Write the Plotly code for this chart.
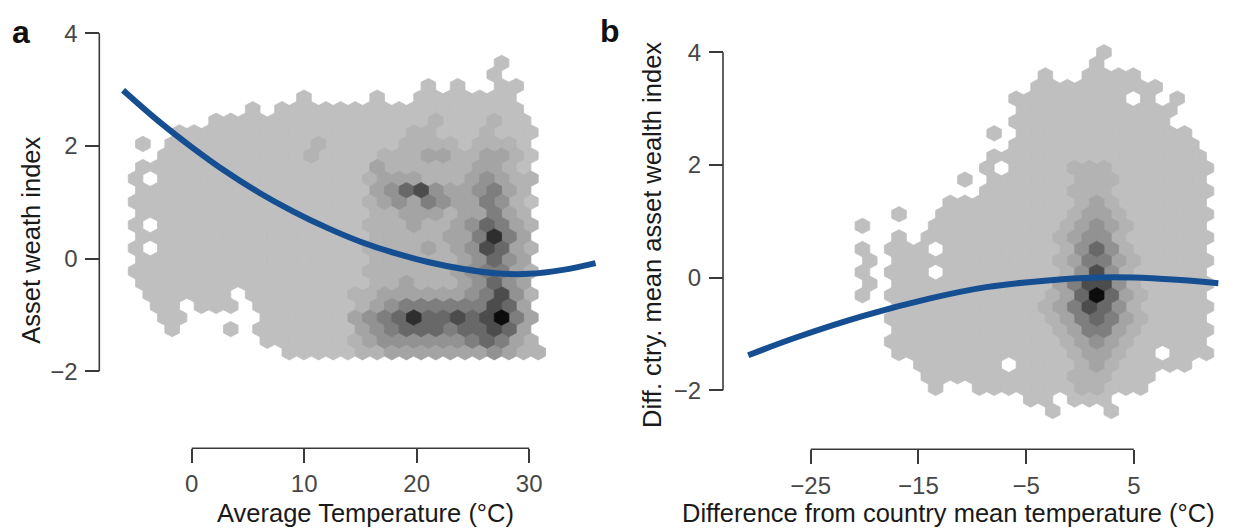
import plotly.graph_objects as go

# ---------------- data ----------------
# Hexbin counts are stored as density classes (1 = fewest households, 9 = most),
# one string per hex row, top row first; '.' marks an empty bin.

# Panel a: asset wealth index vs. average temperature
TEMP_HEX_ROWS = [
    ".........................1..",
    "........................1...",
    "....................1.1..11.",
    "...........1....1..1111111..",
    "........1.11111111111111111.",
    ".....1111111111111112111211.",
    "...1111111111111111221112111",
    "1." + "1111111111" + "2" + "1111" + "1222212221" + ".",
    ".." + "1111111111" + "2" + "111" + "1222" + "33" + "22" + "33" + "2" + "1",
    "11111111111111" + "1" + "1" + "3" + "222222" + "3" + "3" + "2" + "1" + ".",
    "1." + "1111111111111" + "1233322234322",
    "111111111111111" + "134674334532" + ".",
    "111111111111111" + "1234354335421",
    "111111111111111" + "122333233532" + ".",
    "1." + "1111111111111" + "1222322346532",
    "111111111111111" + "122222335853" + ".",
    "1." + "1111111111111" + "1222232347632",
    "111111111111111" + "122222234643" + ".",
    "111111111111111" + "1222222345532",
    "111111111111111" + "122322234643" + ".",
    ".111111.1111111" + "2233333345742",
    ".11.111.1111111" + "234555555763" + ".",
    "..11.....111111" + "3456866767953",
    "..1...1.1111111" + "345666566763" + ".",
    ".........111111" + "2344444456532",
    "..........11111" + "2233333334322",
]

# Panel b: difference from country-mean asset wealth vs. temperature anomaly
DIFF_HEX_ROWS = [
    ".................1.......",
    "................1........",
    ".............1..1111.....",
    "............111111111....",
    "...........11111111.1.1..",
    "...........11111111111...",
    "...........11111111111...",
    ".........1.111111111111..",
    "...........1111111111111.",
    ".........111111111111111.",
    ".........1.11112221111111",
    ".......1.111111222111111.",
    ".........1111112221111111",
    "......111111111232111111.",
    "...1..1111111112332111111",
    "1...." + "111111111" + "23432" + "11111" + ".",
    "...1." + "111111111" + "23442" + "111111",
    "1.111." + "11111111" + "24642" + "11111" + ".",
    ".1." + "11111111111" + "235532" + "11111",
    "1.111." + "11111111" + "24742" + "11111" + ".",
    ".1." + "11111111111" + "357742" + "11111",
    "1." + "11111111111" + "2369632" + "1111" + ".",
    "..." + "1111111111" + "2357642" + "11111",
    ".." + "11111111111" + "2356532" + "1111" + ".",
    "..." + "11111111111" + "235532" + "11111",
    ".." + "111111111111" + "23432" + "11111" + ".",
    "..." + "111111111111" + "2332" + "11" + "." + "111",
    "...." + "111111" + "." + "1111" + "232" + "11111" + "..",
    "....." + "1111111111" + "222" + "111" + "....",
    "....." + "1" + ".." + "1111111" + "22" + "111" + ".....",
    "............11.111.......",
    ".............1...1.......",
]

# Fitted response curves
TEMP_CURVE_X = [-6.1, -3.0, 0.0, 3.0, 6.0, 9.0, 12.0, 15.0, 18.0, 21.0, 24.0, 27.0, 30.0, 33.0, 35.9]
TEMP_CURVE_Y = [2.99, 2.45, 1.98, 1.55, 1.17, 0.84, 0.55, 0.30, 0.10, -0.06, -0.18, -0.26, -0.27, -0.20, -0.08]

DIFF_CURVE_X = [-30.8, -26.3, -20.1, -13.9, -8.7, -3.0, 1.5, 5.0, 9.0, 12.85]
DIFF_CURVE_Y = [-1.38, -1.06, -0.68, -0.37, -0.17, -0.05, 0.0, 0.0, -0.04, -0.10]

TEMP_TICKS = [0, 10, 20, 30]
DIFF_TICKS = [-25, -15, -5, 5]
WEALTH_TICKS = [-2, 0, 2, 4]

# ---------------- hexbin geometry (data units) ----------------
TEMP_BINS = dict(x0=-4.987, dx=1.3013, y0=-1.661, dy=0.20534)
DIFF_BINS = dict(x0=-20.878, dx=1.3593, y0=-2.370, dy=0.20551)

GRAYS = {1: "#bfbfbf", 2: "#b3b3b3", 3: "#a4a4a4", 4: "#929292", 5: "#7e7e7e",
         6: "#686868", 7: "#4c4c4c", 8: "#2e2e2e", 9: "#0c0c0c"}
CURVE_COLOR = "#164f91"
AXIS_COLOR = "#3a3a3a"
FONT = "Liberation Sans, Arial, Helvetica, sans-serif"


def hex_traces(rows, b, xa, ya):
    n = len(rows)
    hw = b["dx"] / 2.0
    rv = b["dy"] * 2.0 / 3.0
    polys = {}
    for i, row in enumerate(rows):
        k = n - 1 - i
        cy = b["y0"] + k * b["dy"]
        shift = 0.5 if k % 2 == 0 else 0.0
        for c, ch in enumerate(row):
            if ch == ".":
                continue
            cx = b["x0"] + (c + shift) * b["dx"]
            xs, ys = polys.setdefault(int(ch), ([], []))
            xs += [cx, cx + hw, cx + hw, cx, cx - hw, cx - hw, cx, None]
            ys += [cy + rv, cy + rv / 2, cy - rv / 2, cy - rv, cy - rv / 2, cy + rv / 2, cy + rv, None]
    traces = []
    for lvl in sorted(polys):
        xs, ys = polys[lvl]
        traces.append(go.Scatter(
            x=xs, y=ys, xaxis=xa, yaxis=ya, mode="lines", fill="toself",
            fillcolor=GRAYS[lvl], line=dict(color=GRAYS[lvl], width=0.8),
            hoverinfo="skip", showlegend=False))
    return traces


fig = go.Figure()
for t in hex_traces(TEMP_HEX_ROWS, TEMP_BINS, "x", "y"):
    fig.add_trace(t)
for t in hex_traces(DIFF_HEX_ROWS, DIFF_BINS, "x2", "y2"):
    fig.add_trace(t)

fig.add_trace(go.Scatter(x=TEMP_CURVE_X, y=TEMP_CURVE_Y, xaxis="x", yaxis="y", mode="lines",
                         line=dict(color=CURVE_COLOR, width=6, shape="spline", smoothing=1.0),
                         showlegend=False, hoverinfo="skip"))
fig.add_trace(go.Scatter(x=DIFF_CURVE_X, y=DIFF_CURVE_Y, xaxis="x2", yaxis="y2", mode="lines",
                         line=dict(color=CURVE_COLOR, width=6, shape="spline", smoothing=1.0),
                         showlegend=False, hoverinfo="skip"))

W, H = 1245, 531
tickfont = dict(family=FONT, size=24, color="#474747")
common = dict(showgrid=False, zeroline=False, showline=False, ticks="outside", ticklen=14,
              tickwidth=1.6, tickcolor=AXIS_COLOR, tickfont=tickfont, anchor="free")

xa_pos = (H - 456) / H
xb_pos = (H - 457) / H
ya_pos = 99.3 / W
yb_pos = 723 / W

fig.update_layout(
    width=W, height=H, margin=dict(l=0, r=0, t=0, b=0),
    paper_bgcolor="white", plot_bgcolor="white", showlegend=False,
    xaxis=dict(domain=[110 / W, 600 / W], range=[-7.262, 36.293], tickvals=TEMP_TICKS,
               position=xa_pos, side="bottom", ticklabelstandoff=0, **common),
    yaxis=dict(domain=[(H - 380) / H, (H - 20) / H], range=[-2.057, 4.139], tickvals=WEALTH_TICKS,
               position=ya_pos, side="left", ticklabelstandoff=3, **common),
    xaxis2=dict(domain=[725 / W, 1240 / W], range=[-32.957, 14.861], tickvals=DIFF_TICKS,
                position=xb_pos, side="bottom", ticklabelstandoff=1, **common),
    yaxis2=dict(domain=[(H - 440) / H, (H - 20) / H], range=[-2.756, 4.479], tickvals=WEALTH_TICKS,
                position=yb_pos, side="left", ticklabelstandoff=3, **common),
)

# R-style axis lines spanning first to last tick only
line = dict(color=AXIS_COLOR, width=1.6)
fig.add_shape(type="line", xref="x", yref="paper", x0=TEMP_TICKS[0], x1=TEMP_TICKS[-1],
              y0=xa_pos, y1=xa_pos, line=line)
fig.add_shape(type="line", xref="paper", yref="y", x0=ya_pos, x1=ya_pos,
              y0=WEALTH_TICKS[0], y1=WEALTH_TICKS[-1], line=line)
fig.add_shape(type="line", xref="x2", yref="paper", x0=DIFF_TICKS[0], x1=DIFF_TICKS[-1],
              y0=xb_pos, y1=xb_pos, line=line)
fig.add_shape(type="line", xref="paper", yref="y2", x0=yb_pos, x1=yb_pos,
              y0=WEALTH_TICKS[0], y1=WEALTH_TICKS[-1], line=line)

title_font = dict(family=FONT, size=25.5, color="#1a1a1a")
ann = [
    dict(text="Average Temperature (°C)", x=365 / W, y=(H - 523) / H, textangle=0),
    dict(text="Difference from country mean temperature (°C)", x=948 / W, y=(H - 523) / H, textangle=0),
    dict(text="Asset weath index", x=31 / W, y=(H - 242) / H, textangle=-90),
    dict(text="Diff. ctry. mean asset wealth index", x=652 / W, y=(H - 236) / H, textangle=-90),
]
for a in ann:
    fig.add_annotation(xref="paper", yref="paper", xanchor="center", yanchor="middle",
                       showarrow=False, font=title_font, borderpad=0, **a)

label_font = dict(family=FONT, size=32, color="#111111")
fig.add_annotation(text="<b>a</b>", x=21 / W, y=(H - 27) / H, xref="paper", yref="paper",
                   xanchor="center", yanchor="middle", showarrow=False, font=label_font)
fig.add_annotation(text="<b>b</b>", x=610 / W, y=(H - 26) / H, xref="paper", yref="paper",
                   xanchor="center", yanchor="middle", showarrow=False, font=label_font)

fig.write_html("out.html")
